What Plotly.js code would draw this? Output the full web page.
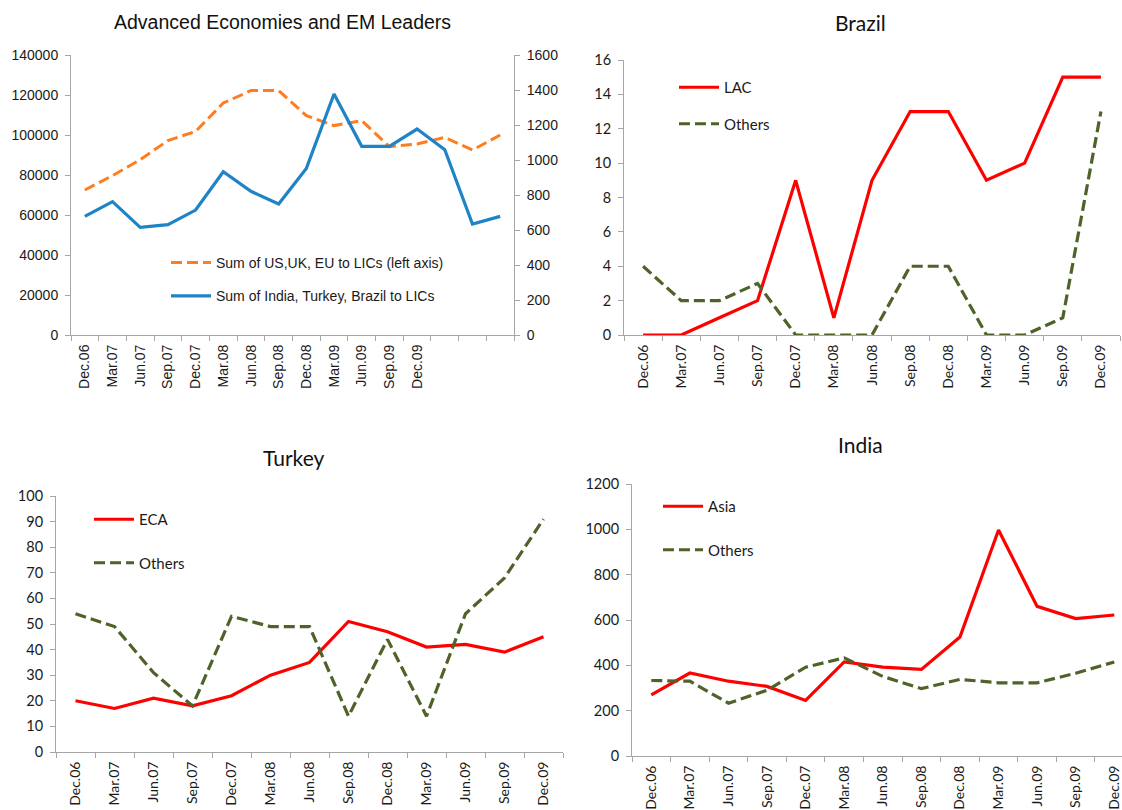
<!DOCTYPE html>
<html>
<head>
<meta charset="utf-8">
<script src="https://cdn.plot.ly/plotly-3.0.1.min.js"></script>
<style>
  html, body { margin: 0; padding: 0; background: #fff; }
  #chart { width: 1122px; height: 810px; }
</style>
</head>
<body>
<div id="chart"></div>
<script>
// quarter labels (x axis)
const quarters = ['Dec.06', 'Mar.07', 'Jun.07', 'Sep.07', 'Dec.07', 'Mar.08', 'Jun.08',
                  'Sep.08', 'Dec.08', 'Mar.09', 'Jun.09', 'Sep.09', 'Dec.09'];

// Advanced Economies and EM Leaders (16 points, only 13 labelled)
const advEcon   = [72500, 79700, 87700, 97200, 101800, 116000, 122200, 122200,
                   109700, 104700, 107200, 94200, 95500, 98800, 92500, 100000];
const emLeaders = [678, 762, 615, 631, 714, 933, 821, 749,
                   952, 1377, 1078, 1078, 1177, 1059, 634, 678];

// Brazil
const brLac    = [0, 0, 1, 2, 9, 1, 9, 13, 13, 9, 10, 15, 15];
const brOthers = [4, 2, 2, 3, 0, 0, 0, 4, 4, 0, 0, 1, 13];

// Turkey
const trEca    = [20, 17, 21, 18, 22, 30, 35, 51, 47, 41, 42, 39, 45];
const trOthers = [54, 49, 31, 18, 53, 49, 49, 14, 44, 14, 54, 68, 91];

// India
const inAsia   = [270, 366, 330, 307, 245, 415, 392, 382, 525, 997, 660, 606, 622];
const inOthers = [333, 330, 233, 290, 392, 433, 351, 297, 338, 323, 323, 365, 415];

const W = 1122, H = 810;
const AX = '#a6a6a6';
const TXT = '#1a1a1a';
const ARIAL = 'Liberation Sans, Arial, sans-serif';
const CALI = 'Lato, sans-serif';
const DASH = '11px,5px';

function idx(arr){ return arr.map((v, i) => i); }

// px helpers -> paper coords
function dx(a, b){ return [a / W, b / W]; }
function dy(top, bottom){ return [1 - bottom / H, 1 - top / H]; }

// x axis: labels centered on points, ticks on category boundaries (Excel style)
function catAxis(n, labels, domain, anchor, font, rightCut){
  let vals = [];
  let text = [];
  let bounds = [];
  for (let i = 0; i < n; i++){
    vals.push(i);
    text.push(labels[i] || '');
    bounds.push(i - 0.5);
  }
  bounds.push(n - 0.5);
  return {
    domain: domain, anchor: anchor,
    range: [-0.5, rightCut !== undefined ? rightCut : n - 0.5],
    tickmode: 'array', tickvals: vals, ticktext: text, tickangle: -90,
    ticks: '', showgrid: false, zeroline: false,
    showline: true, linecolor: AX, linewidth: 1,
    tickfont: font, ticklabelstandoff: 3,
    minor: {tickmode: 'array', tickvals: bounds, ticks: 'outside', ticklen: 5, tickcolor: AX, showgrid: false}
  };
}

function valAxis(range, dtick, domain, anchor, font, extra){
  let ax = {
    domain: domain, anchor: anchor, range: range, dtick: dtick, tick0: 0,
    tickformat: 'd', showgrid: false, zeroline: false,
    showline: true, linecolor: AX, linewidth: 1,
    ticks: 'outside', ticklen: 5, tickcolor: AX,
    tickfont: font, ticklabelstandoff: 4
  };
  return Object.assign(ax, extra || {});
}

const fArial = {family: ARIAL, size: 14, color: TXT};
const fCali = {family: CALI, size: 14.5, color: TXT};
const fCaliX = {family: CALI, size: 14, color: TXT};

const data = [
  {x: idx(advEcon), y: advEcon, xaxis: 'x', yaxis: 'y', mode: 'lines',
   name: 'Sum of US,UK, EU to LICs (left axis)',
   line: {color: '#ff7c1f', width: 3, dash: DASH},
   legend: 'legend', legendgroup: 'a1'},
  {x: idx(emLeaders), y: emLeaders, xaxis: 'x', yaxis: 'y2', mode: 'lines',
   name: 'Sum of India, Turkey, Brazil to LICs',
   line: {color: '#1f84c6', width: 3.2},
   legend: 'legend', legendgroup: 'a2'},

  {x: idx(brLac), y: brLac, xaxis: 'x2', yaxis: 'y3', mode: 'lines', name: 'LAC',
   line: {color: '#ff0000', width: 3.2}, legend: 'legend2', legendgroup: 'b1'},
  {x: idx(brOthers), y: brOthers, xaxis: 'x2', yaxis: 'y3', mode: 'lines', name: 'Others',
   line: {color: '#4f6228', width: 3.2, dash: DASH}, legend: 'legend2', legendgroup: 'b2'},

  {x: idx(trEca), y: trEca, xaxis: 'x3', yaxis: 'y4', mode: 'lines', name: 'ECA',
   line: {color: '#ff0000', width: 3.2}, legend: 'legend3', legendgroup: 'c1'},
  {x: idx(trOthers), y: trOthers, xaxis: 'x3', yaxis: 'y4', mode: 'lines', name: 'Others',
   line: {color: '#4f6228', width: 3.2, dash: DASH}, legend: 'legend3', legendgroup: 'c2'},

  {x: idx(inAsia), y: inAsia, xaxis: 'x4', yaxis: 'y5', mode: 'lines', name: 'Asia',
   line: {color: '#ff0000', width: 3.2}, legend: 'legend4', legendgroup: 'd1'},
  {x: idx(inOthers), y: inOthers, xaxis: 'x4', yaxis: 'y5', mode: 'lines', name: 'Others',
   line: {color: '#4f6228', width: 3.2, dash: DASH}, legend: 'legend4', legendgroup: 'd2'}
];

function legendAt(px, py, font, gap){
  return {x: px / W, y: 1 - py / H, xanchor: 'left', yanchor: 'top',
          bgcolor: 'rgba(0,0,0,0)', font: font, tracegroupgap: gap, itemwidth: 40};
}

function title(text, px, py, font){
  return {text: text, x: px / W, y: 1 - py / H, xref: 'paper', yref: 'paper',
          xanchor: 'center', yanchor: 'middle', showarrow: false, font: font};
}

const layout = {
  width: W, height: H,
  margin: {l: 0, r: 0, t: 0, b: 0},
  paper_bgcolor: '#fff', plot_bgcolor: 'rgba(0,0,0,0)',
  showlegend: true,

  xaxis:  catAxis(advEcon.length, quarters, dx(71, 514), 'y', fArial),
  yaxis:  valAxis([0, 140000], 20000, dy(55, 335), 'x', fArial),
  yaxis2: valAxis([0, 1600], 200, dy(55, 335), 'x', fArial, {overlaying: 'y', side: 'right'}),

  xaxis2: catAxis(quarters.length, quarters, dx(624, 1120), 'y3', fCaliX),
  yaxis3: valAxis([0, 16], 2, dy(60, 335), 'x2', fCali),

  xaxis3: catAxis(quarters.length, quarters, dx(56, 563), 'y4', fCaliX),
  yaxis4: valAxis([0, 100], 10, dy(496, 752), 'x3', fCali),

  xaxis4: catAxis(quarters.length, quarters, dx(632, 1122), 'y5', fCaliX, 12.2),
  yaxis5: valAxis([0, 1200], 200, dy(484, 756), 'x4', fCali),

  legend:  legendAt(166, 247, {family: ARIAL, size: 14, color: TXT}, 12),
  legend2: legendAt(674, 71, {family: CALI, size: 15, color: TXT}, 14),
  legend3: legendAt(89, 503, {family: CALI, size: 15, color: TXT}, 21),
  legend4: legendAt(658, 490, {family: CALI, size: 15, color: TXT}, 21),

  annotations: [
    title('Advanced Economies and EM Leaders', 282, 22, {family: ARIAL, size: 19.5, color: '#111', weight: 400}),
    title('Brazil', 860, 23, {family: CALI, size: 21, color: '#111', weight: 400}),
    title('Turkey', 293, 457, {family: CALI, size: 21, color: '#111', weight: 400}),
    title('India', 860, 444, {family: CALI, size: 21, color: '#111', weight: 400})
  ]
};

Plotly.newPlot('chart', data, layout, {staticPlot: true});
</script>
</body>
</html>
